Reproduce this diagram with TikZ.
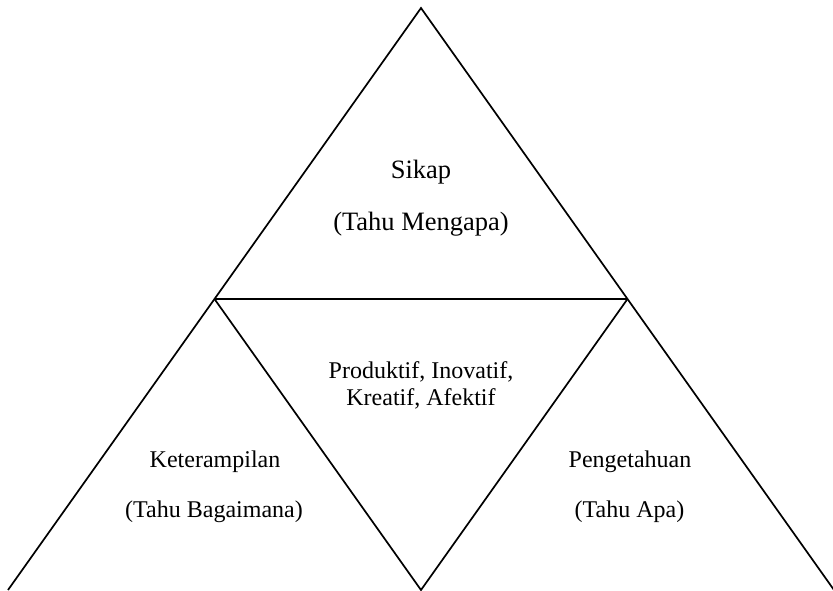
\documentclass[tikz,border=0pt]{standalone}
\usepackage{fontspec}
\setmainfont{Liberation Serif}
\begin{document}
\begin{tikzpicture}[x=1pt,y=-1pt,
  edge/.style={line width=1.7pt,line join=miter},
  lbl/.style={anchor=base,inner sep=0pt,font=\fontsize{24}{28}\selectfont,align=center},
  biglbl/.style={lbl,font=\fontsize{26.5}{30}\selectfont}]
\useasboundingbox (0,0) rectangle (833,590);
\coordinate (top) at (421,8);
\coordinate (bl) at (8,590);
\coordinate (br) at (834,590);
\coordinate (ml) at (214.5,299);
\coordinate (mr) at (627.5,299);
\coordinate (bm) at (421,590);
\draw[edge] (bl) -- (top) -- (br);
\draw[edge] (ml) -- (mr);
\draw[edge] (ml) -- (bm) -- (mr);
\node[biglbl] (s1) at (421,178) {Sikap};
\node[biglbl] (s2) at (421,230) {(Tahu Mengapa)};
\node[lbl] (c1) at (421,378) {Produktif, Inovatif,};
\node[lbl] (c2) at (421,405) {Kreatif, Afektif};
\node[lbl] (k1) at (215,467) {Keterampilan};
\node[lbl] (k2) at (214,517) {(Tahu Bagaimana)};
\node[lbl] (p1) at (630,467) {Pengetahuan};
\node[lbl] (p2) at (629.5,517) {(Tahu Apa)};
\end{tikzpicture}
\end{document}
